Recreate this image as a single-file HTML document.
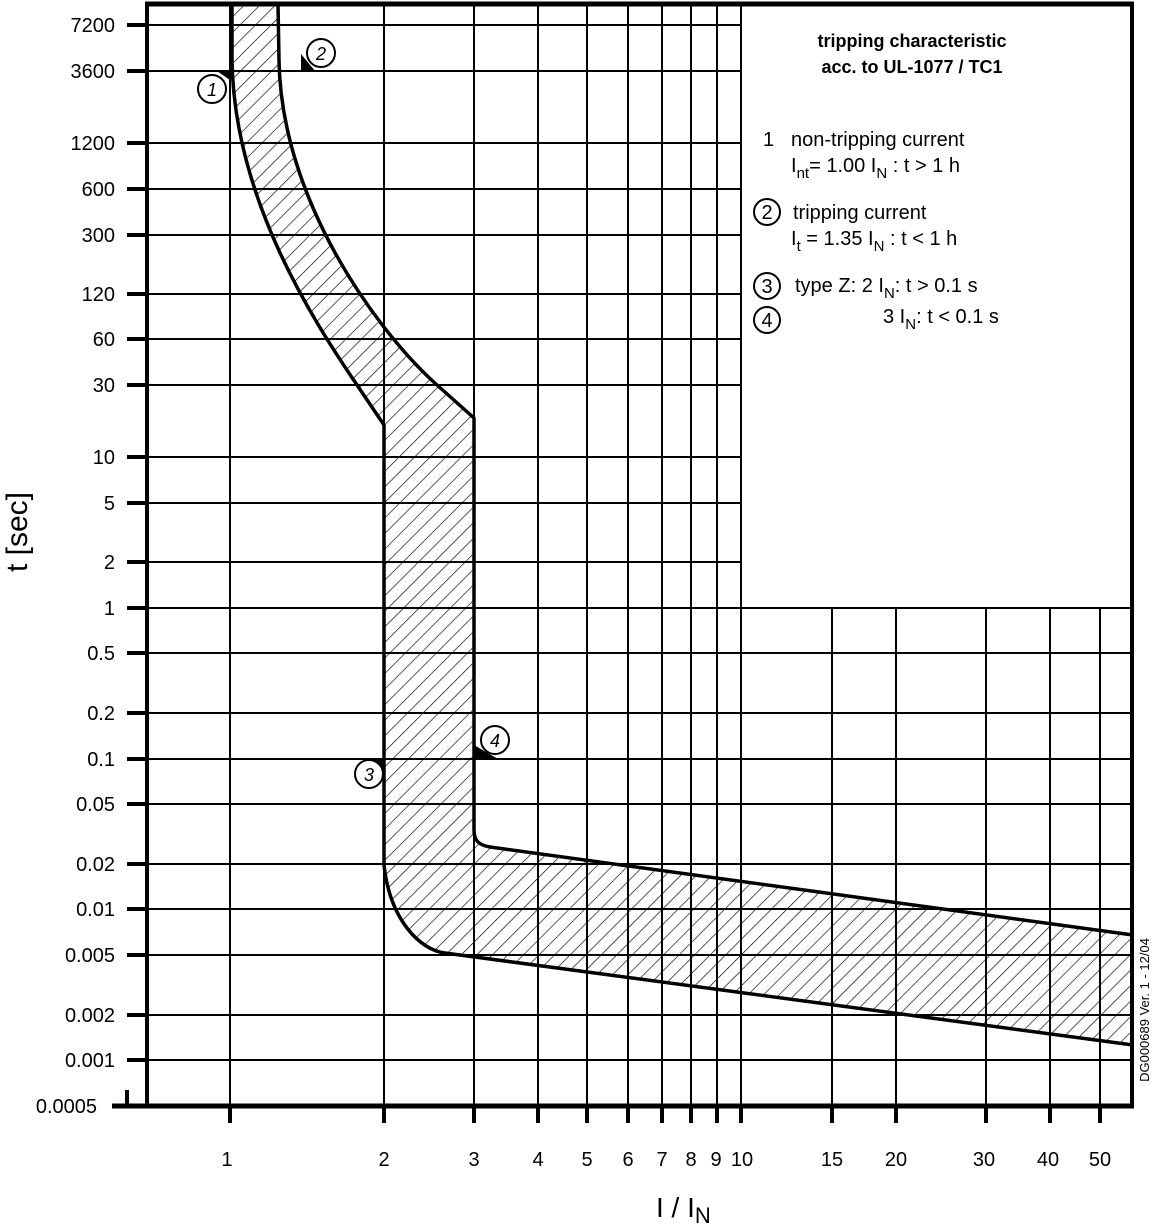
<!DOCTYPE html>
<html><head><meta charset="utf-8"><style>
html,body{margin:0;padding:0;background:#fff}
svg{display:block}
text{font-family:"Liberation Sans",sans-serif;fill:#000}
</style></head><body>
<svg width="1153" height="1223" viewBox="0 0 1153 1223" xmlns="http://www.w3.org/2000/svg">
<defs>
<pattern id="h" patternUnits="userSpaceOnUse" width="11" height="11" patternTransform="rotate(45)">
<line x1="0" y1="0" x2="0" y2="11" stroke="#000" stroke-width="1.3"/>
</pattern>
</defs>
<g stroke="#000" stroke-width="2">
<line x1="147" y1="25" x2="741" y2="25"/>
<line x1="147" y1="71" x2="741" y2="71"/>
<line x1="147" y1="143" x2="741" y2="143"/>
<line x1="147" y1="189" x2="741" y2="189"/>
<line x1="147" y1="235" x2="741" y2="235"/>
<line x1="147" y1="294" x2="741" y2="294"/>
<line x1="147" y1="339" x2="741" y2="339"/>
<line x1="147" y1="385" x2="741" y2="385"/>
<line x1="147" y1="457" x2="741" y2="457"/>
<line x1="147" y1="503" x2="741" y2="503"/>
<line x1="147" y1="562" x2="741" y2="562"/>
<line x1="147" y1="608" x2="1132" y2="608"/>
<line x1="147" y1="653" x2="1132" y2="653"/>
<line x1="147" y1="713" x2="1132" y2="713"/>
<line x1="147" y1="759" x2="1132" y2="759"/>
<line x1="147" y1="804" x2="1132" y2="804"/>
<line x1="147" y1="864" x2="1132" y2="864"/>
<line x1="147" y1="909" x2="1132" y2="909"/>
<line x1="147" y1="955" x2="1132" y2="955"/>
<line x1="147" y1="1015" x2="1132" y2="1015"/>
<line x1="147" y1="1060" x2="1132" y2="1060"/>
</g>
<g stroke="#000" stroke-width="2">
<line x1="230" y1="4" x2="230" y2="1106"/>
<line x1="384" y1="4" x2="384" y2="1106"/>
<line x1="474" y1="4" x2="474" y2="1106"/>
<line x1="538" y1="4" x2="538" y2="1106"/>
<line x1="587" y1="4" x2="587" y2="1106"/>
<line x1="628" y1="4" x2="628" y2="1106"/>
<line x1="662" y1="4" x2="662" y2="1106"/>
<line x1="691" y1="4" x2="691" y2="1106"/>
<line x1="717" y1="4" x2="717" y2="1106"/>
<line x1="741" y1="4" x2="741" y2="1106"/>
<line x1="832" y1="608" x2="832" y2="1106"/>
<line x1="896" y1="608" x2="896" y2="1106"/>
<line x1="986" y1="608" x2="986" y2="1106"/>
<line x1="1050" y1="608" x2="1050" y2="1106"/>
<line x1="1100" y1="608" x2="1100" y2="1106"/>
</g>
<path d="M232,4 L232,60 C234,200 315,323 357,385 L384,425 L384,865 C390,920 420,950 445,953 L1133,1045 L1133,935 L490,847 C478,845 474,840 474,830 L474,418 L437,385 C377,331.5 281,200 279,60 L278,4 Z" fill="url(#h)" stroke="none"/>
<path d="M232,4 L232,60 C234,200 315,323 357,385 L384,425 L384,865 C390,920 420,950 445,953 L1133,1045" fill="none" stroke="#000" stroke-width="3.5" stroke-linejoin="round"/>
<path d="M278,4 L279,60 C281,200 377,331.5 437,385 L474,418 L474,830 C474,840 478,845 490,847 L1133,935" fill="none" stroke="#000" stroke-width="3.5" stroke-linejoin="round"/>
<g stroke="#000" fill="none">
<line x1="147" y1="4" x2="147" y2="1108" stroke-width="4"/>
<line x1="112" y1="1106" x2="1134" y2="1106" stroke-width="5"/>
<line x1="145" y1="4" x2="1134" y2="4" stroke-width="5"/>
<line x1="1132" y1="2" x2="1132" y2="1108" stroke-width="4"/>
</g>
<g stroke="#000" stroke-width="4">
<line x1="127" y1="25" x2="147" y2="25"/><line x1="127" y1="71" x2="147" y2="71"/>
<line x1="127" y1="143" x2="147" y2="143"/><line x1="127" y1="189" x2="147" y2="189"/>
<line x1="127" y1="235" x2="147" y2="235"/><line x1="127" y1="294" x2="147" y2="294"/>
<line x1="127" y1="339" x2="147" y2="339"/><line x1="127" y1="385" x2="147" y2="385"/>
<line x1="127" y1="457" x2="147" y2="457"/><line x1="127" y1="503" x2="147" y2="503"/>
<line x1="127" y1="562" x2="147" y2="562"/><line x1="127" y1="608" x2="147" y2="608"/>
<line x1="127" y1="653" x2="147" y2="653"/><line x1="127" y1="713" x2="147" y2="713"/>
<line x1="127" y1="759" x2="147" y2="759"/><line x1="127" y1="804" x2="147" y2="804"/>
<line x1="127" y1="864" x2="147" y2="864"/><line x1="127" y1="909" x2="147" y2="909"/>
<line x1="127" y1="955" x2="147" y2="955"/><line x1="127" y1="1015" x2="147" y2="1015"/>
<line x1="127" y1="1060" x2="147" y2="1060"/><line x1="127" y1="1090" x2="127" y2="1106"/>
</g>
<g stroke="#000" stroke-width="4">
<line x1="230" y1="1106" x2="230" y2="1123"/><line x1="384" y1="1106" x2="384" y2="1123"/>
<line x1="474" y1="1106" x2="474" y2="1123"/><line x1="538" y1="1106" x2="538" y2="1123"/>
<line x1="587" y1="1106" x2="587" y2="1123"/><line x1="628" y1="1106" x2="628" y2="1123"/>
<line x1="662" y1="1106" x2="662" y2="1123"/><line x1="691" y1="1106" x2="691" y2="1123"/>
<line x1="717" y1="1106" x2="717" y2="1123"/><line x1="741" y1="1106" x2="741" y2="1123"/>
<line x1="832" y1="1106" x2="832" y2="1123"/><line x1="896" y1="1106" x2="896" y2="1123"/>
<line x1="986" y1="1106" x2="986" y2="1123"/><line x1="1050" y1="1106" x2="1050" y2="1123"/>
<line x1="1100" y1="1106" x2="1100" y2="1123"/>
</g>
<g font-size="20" text-anchor="end">
<text x="115" y="32">7200</text><text x="115" y="78">3600</text>
<text x="115" y="150">1200</text><text x="115" y="196">600</text>
<text x="115" y="242">300</text><text x="115" y="301">120</text>
<text x="115" y="346">60</text><text x="115" y="392">30</text>
<text x="115" y="464">10</text><text x="115" y="510">5</text>
<text x="115" y="569">2</text><text x="115" y="615">1</text>
<text x="115" y="660">0.5</text><text x="115" y="720">0.2</text>
<text x="115" y="766">0.1</text><text x="115" y="811">0.05</text>
<text x="115" y="871">0.02</text><text x="115" y="916">0.01</text>
<text x="115" y="962">0.005</text><text x="115" y="1022">0.002</text>
<text x="115" y="1067">0.001</text><text x="97" y="1113">0.0005</text>
</g>
<g font-size="20" text-anchor="middle">
<text x="227" y="1166">1</text><text x="384" y="1166">2</text><text x="474" y="1166">3</text>
<text x="538" y="1166">4</text><text x="587" y="1166">5</text><text x="628" y="1166">6</text>
<text x="662" y="1166">7</text><text x="691" y="1166">8</text><text x="716" y="1166">9</text>
<text x="742" y="1166">10</text><text x="832" y="1166">15</text><text x="896" y="1166">20</text>
<text x="984" y="1166">30</text><text x="1048" y="1166">40</text><text x="1100" y="1166">50</text>
</g>
<text x="656" y="1217" font-size="28">I / I<tspan font-size="22" dy="6">N</tspan></text>
<text transform="translate(27,532) rotate(-90)" font-size="30" text-anchor="middle">t [sec]</text>
<text transform="translate(1149,1010) rotate(-90)" font-size="13" text-anchor="middle">DG000689  Ver. 1 - 12/04</text>
<polygon points="230,71 217,71 230,80" fill="#000"/>
<circle cx="212" cy="89" r="14" fill="#fff" stroke="#000" stroke-width="2"/>
<text x="212" y="96" font-size="18" font-style="italic" text-anchor="middle">1</text>
<polygon points="301,54 301,71 315,71" fill="#000"/>
<circle cx="321" cy="53" r="14" fill="#fff" stroke="#000" stroke-width="2"/>
<text x="321" y="60" font-size="18" font-style="italic" text-anchor="middle">2</text>
<polygon points="384,759 371,759 384,768" fill="#000"/>
<circle cx="369" cy="774" r="14" fill="#fff" stroke="#000" stroke-width="2"/>
<text x="369" y="781" font-size="18" font-style="italic" text-anchor="middle">3</text>
<polygon points="474,745 474,759 498,759" fill="#000"/>
<circle cx="495" cy="740" r="14" fill="#fff" stroke="#000" stroke-width="2"/>
<text x="495" y="747" font-size="18" font-style="italic" text-anchor="middle">4</text>
<text x="912" y="47" font-size="18" font-weight="bold" text-anchor="middle">tripping characteristic</text>
<text x="912" y="73" font-size="18" font-weight="bold" text-anchor="middle">acc. to UL-1077 / TC1</text>
<g font-size="20">
<text x="763" y="146">1</text>
<text x="791" y="146">non-tripping current</text>
<text x="791" y="172">I<tspan font-size="15" dy="6">nt</tspan><tspan dy="-6">= 1.00 I</tspan><tspan font-size="15" dy="6">N</tspan><tspan dy="-6"> : t &gt; 1 h</tspan></text>
<circle cx="767" cy="212" r="13" fill="#fff" stroke="#000" stroke-width="2"/>
<text x="767" y="219" text-anchor="middle">2</text>
<text x="793" y="219">tripping current</text>
<text x="791" y="245">I<tspan font-size="15" dy="6">t</tspan><tspan dy="-6"> = 1.35 I</tspan><tspan font-size="15" dy="6">N</tspan><tspan dy="-6"> : t &lt; 1 h</tspan></text>
<circle cx="767" cy="286" r="13" fill="#fff" stroke="#000" stroke-width="2"/>
<text x="767" y="293" text-anchor="middle">3</text>
<text x="795" y="292">type Z:  2 I<tspan font-size="15" dy="6">N</tspan><tspan dy="-6">: t &gt; 0.1 s</tspan></text>
<circle cx="767" cy="320" r="13" fill="#fff" stroke="#000" stroke-width="2"/>
<text x="767" y="327" text-anchor="middle">4</text>
<text x="883" y="323">3 I<tspan font-size="15" dy="6">N</tspan><tspan dy="-6">: t &lt; 0.1 s</tspan></text>
</g>
</svg>
</body></html>
